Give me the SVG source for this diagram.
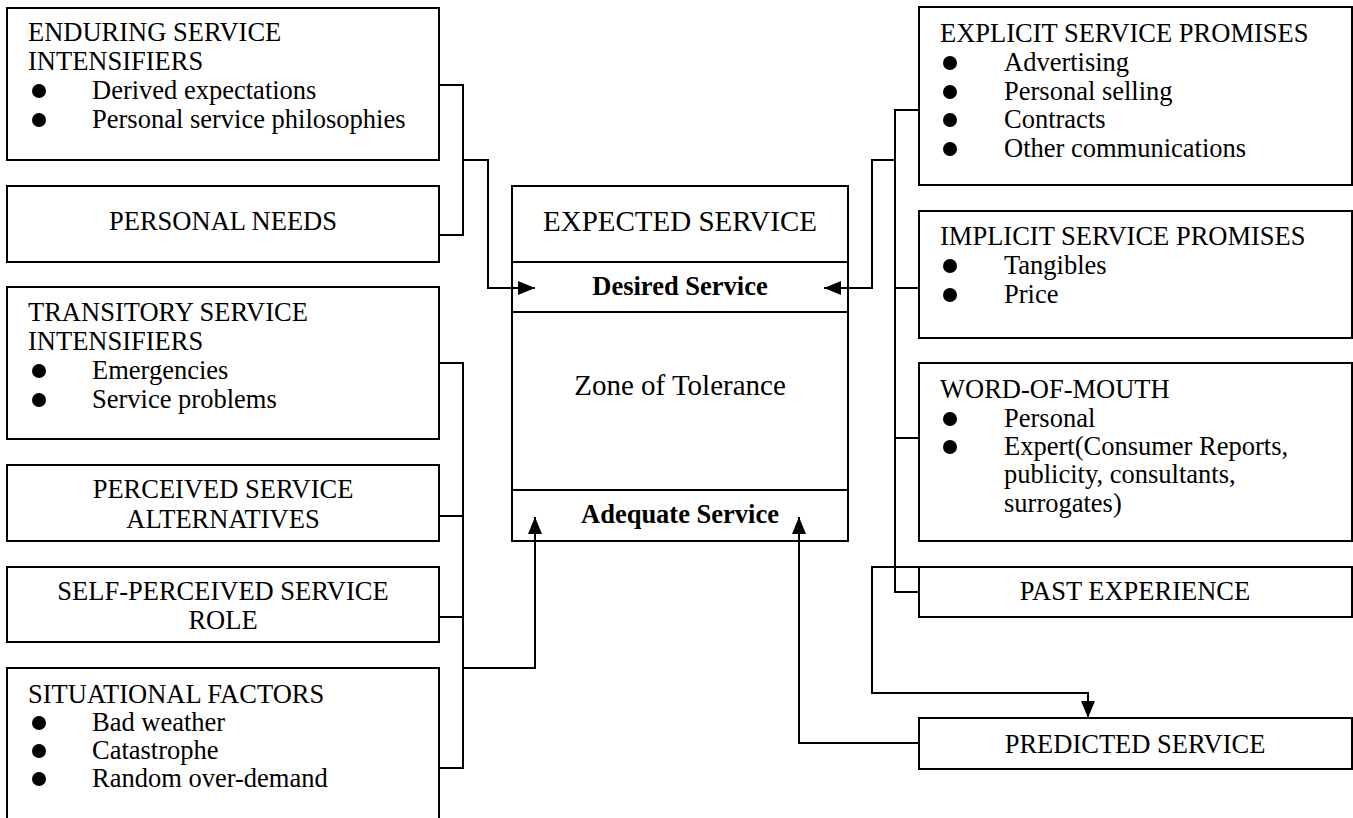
<svg xmlns="http://www.w3.org/2000/svg" width="1353" height="818" viewBox="0 0 1353 818">
<style>
.box{fill:#fff;stroke:#000;stroke-width:2}
.ln{fill:none;stroke:#000;stroke-width:2}
.t{font-family:"Liberation Serif","Times New Roman",serif;font-size:26.5px;fill:#000}
.c{text-anchor:middle}
.big{font-size:29px}
.b{font-weight:bold}
.dot{fill:#000}
</style>
<defs>
<marker id="ah" markerUnits="userSpaceOnUse" markerWidth="17" markerHeight="14" refX="17" refY="7" orient="auto">
<path d="M0,0 L17,7 L0,14 z" fill="#000"/>
</marker>
</defs>
<rect width="1353" height="818" fill="#fff"/>

<g id="enduring">
<rect class="box" x="7" y="8" width="432" height="152"/>
<text class="t" x="28" y="41">ENDURING SERVICE</text>
<text class="t" x="28" y="70">INTENSIFIERS</text>
<circle class="dot" cx="39" cy="91" r="7"/>
<text class="t" x="92" y="99">Derived expectations</text>
<circle class="dot" cx="39" cy="120" r="7"/>
<text class="t" x="92" y="128">Personal service philosophies</text>
</g>

<g id="personal-needs">
<rect class="box" x="7" y="186" width="432" height="76"/>
<text class="t c" x="223" y="230">PERSONAL NEEDS</text>
</g>

<g id="transitory">
<rect class="box" x="7" y="287" width="432" height="152"/>
<text class="t" x="28" y="321">TRANSITORY SERVICE</text>
<text class="t" x="28" y="350">INTENSIFIERS</text>
<circle class="dot" cx="39" cy="371" r="7"/>
<text class="t" x="92" y="379">Emergencies</text>
<circle class="dot" cx="39" cy="400" r="7"/>
<text class="t" x="92" y="408">Service problems</text>
</g>

<g id="perceived-alternatives">
<rect class="box" x="7" y="465" width="432" height="76"/>
<text class="t c" x="223" y="498">PERCEIVED SERVICE</text>
<text class="t c" x="223" y="528">ALTERNATIVES</text>
</g>

<g id="self-perceived">
<rect class="box" x="7" y="567" width="432" height="75"/>
<text class="t c" x="223" y="600">SELF-PERCEIVED SERVICE</text>
<text class="t c" x="223" y="629">ROLE</text>
</g>

<g id="situational">
<path class="box" d="M7,818 V668 H439 V818"/>
<text class="t" x="28" y="703">SITUATIONAL FACTORS</text>
<circle class="dot" cx="39" cy="723" r="7"/>
<text class="t" x="92" y="731">Bad weather</text>
<circle class="dot" cx="39" cy="751" r="7"/>
<text class="t" x="92" y="759">Catastrophe</text>
<circle class="dot" cx="39" cy="779" r="7"/>
<text class="t" x="92" y="787">Random over-demand</text>
</g>

<g id="expected-service">
<rect class="box" x="512" y="186" width="336" height="355"/>
<line class="ln" x1="512" y1="262" x2="848" y2="262"/>
<line class="ln" x1="512" y1="312" x2="848" y2="312"/>
<line class="ln" x1="512" y1="490" x2="848" y2="490"/>
<text class="t big c" x="680" y="231">EXPECTED SERVICE</text>
<text class="t b c" x="680" y="295">Desired Service</text>
<text class="t big c" x="680" y="395">Zone of Tolerance</text>
<text class="t b c" x="680" y="523">Adequate Service</text>
</g>

<g id="explicit">
<rect class="box" x="919" y="7" width="433" height="178"/>
<text class="t" x="940" y="42">EXPLICIT SERVICE PROMISES</text>
<circle class="dot" cx="950" cy="63" r="7"/>
<text class="t" x="1004" y="71">Advertising</text>
<circle class="dot" cx="950" cy="92" r="7"/>
<text class="t" x="1004" y="100">Personal selling</text>
<circle class="dot" cx="950" cy="120" r="7"/>
<text class="t" x="1004" y="128">Contracts</text>
<circle class="dot" cx="950" cy="149" r="7"/>
<text class="t" x="1004" y="157">Other communications</text>
</g>

<g id="implicit">
<rect class="box" x="919" y="211" width="433" height="127"/>
<text class="t" x="940" y="245">IMPLICIT SERVICE PROMISES</text>
<circle class="dot" cx="950" cy="266" r="7"/>
<text class="t" x="1004" y="274">Tangibles</text>
<circle class="dot" cx="950" cy="295" r="7"/>
<text class="t" x="1004" y="303">Price</text>
</g>

<g id="word-of-mouth">
<rect class="box" x="919" y="363" width="433" height="178"/>
<text class="t" x="940" y="398">WORD-OF-MOUTH</text>
<circle class="dot" cx="950" cy="419" r="7"/>
<text class="t" x="1004" y="427">Personal</text>
<circle class="dot" cx="950" cy="447" r="7"/>
<text class="t" x="1004" y="455">Expert(Consumer Reports,</text>
<text class="t" x="1004" y="483">publicity, consultants,</text>
<text class="t" x="1004" y="512">surrogates)</text>
</g>

<g id="past-experience">
<rect class="box" x="919" y="567" width="433" height="50"/>
<text class="t c" x="1135" y="600">PAST EXPERIENCE</text>
</g>

<g id="predicted">
<rect class="box" x="919" y="718" width="433" height="51"/>
<text class="t c" x="1135" y="753">PREDICTED SERVICE</text>
</g>

<g id="connectors">
<path class="ln" d="M439,85 H463 V235 H439"/>
<path class="ln" d="M463,160 H488 V288 H535" marker-end="url(#ah)"/>
<path class="ln" d="M439,363 H463 V768 H439"/>
<path class="ln" d="M439,516 H463"/>
<path class="ln" d="M439,617 H463"/>
<path class="ln" d="M463,668 H535 V517" marker-end="url(#ah)"/>
<path class="ln" d="M919,110 H895 V592 H919"/>
<path class="ln" d="M919,288 H895"/>
<path class="ln" d="M919,438 H895"/>
<path class="ln" d="M895,160 H872 V288 H824" marker-end="url(#ah)"/>
<path class="ln" d="M919,567 H872 V693 H1088 V718" marker-end="url(#ah)"/>
<path class="ln" d="M919,743 H799 V517" marker-end="url(#ah)"/>
</g>
</svg>
